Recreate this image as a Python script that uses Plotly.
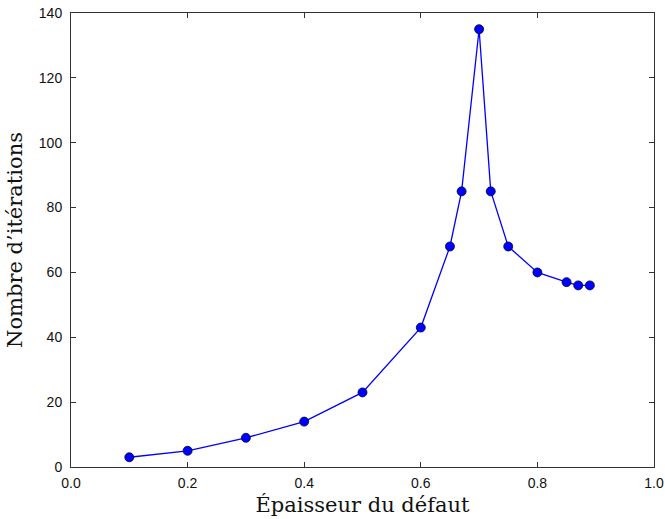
import plotly.graph_objects as go

epaisseur = [0.1, 0.2, 0.3, 0.4, 0.5, 0.6, 0.65, 0.67, 0.7, 0.72, 0.75, 0.8, 0.85, 0.87, 0.89]
iterations = [3, 5, 9, 14, 23, 43, 68, 85, 135, 85, 68, 60, 57, 56, 56]

x_ticks = [0.0, 0.2, 0.4, 0.6, 0.8, 1.0]
x_ticklabels = ["0.0", "0.2", "0.4", "0.6", "0.8", "1.0"]
y_ticks = [0, 20, 40, 60, 80, 100, 120, 140]

fig = go.Figure()
fig.add_trace(go.Scatter(
    x=epaisseur, y=iterations, mode="lines+markers",
    line=dict(color="#0000ff", width=1.3),
    marker=dict(color="#0000ff", size=9, line=dict(color="#000033", width=0.8)),
    showlegend=False,
))

axis_common = dict(
    showline=True, linecolor="#333333", linewidth=1, mirror="ticks",
    ticks="inside", ticklen=5, tickwidth=1, tickcolor="#333333",
    showgrid=False, zeroline=False, automargin=False,
    ticklabeloverflow="allow",
    tickfont=dict(family="Liberation Sans, Arial, sans-serif", size=14, color="#111111"),
)

title_font = dict(family="DejaVu Serif, Liberation Serif, serif", size=21, color="#111111")

fig.update_xaxes(
    range=[0, 1], tickvals=x_ticks, ticktext=x_ticklabels,
    title=dict(text="Épaisseur du défaut", standoff=7, font=title_font),
    ticklabelstandoff=3,
    **axis_common,
)
fig.update_yaxes(
    range=[0, 140], tickvals=y_ticks,
    title=dict(text="Nombre d’itérations", standoff=10, font=title_font),
    ticklabelstandoff=5,
    **axis_common,
)

fig.update_layout(
    width=665, height=519,
    margin=dict(l=71, r=11, t=13, b=52),
    plot_bgcolor="white", paper_bgcolor="white",
)

# remove the default 8px body margin of the page so the figure sits at (0, 0)
fig.write_html(
    "out.html",
    config={"displayModeBar": False},
    post_script="document.body.style.margin='0';",
)
